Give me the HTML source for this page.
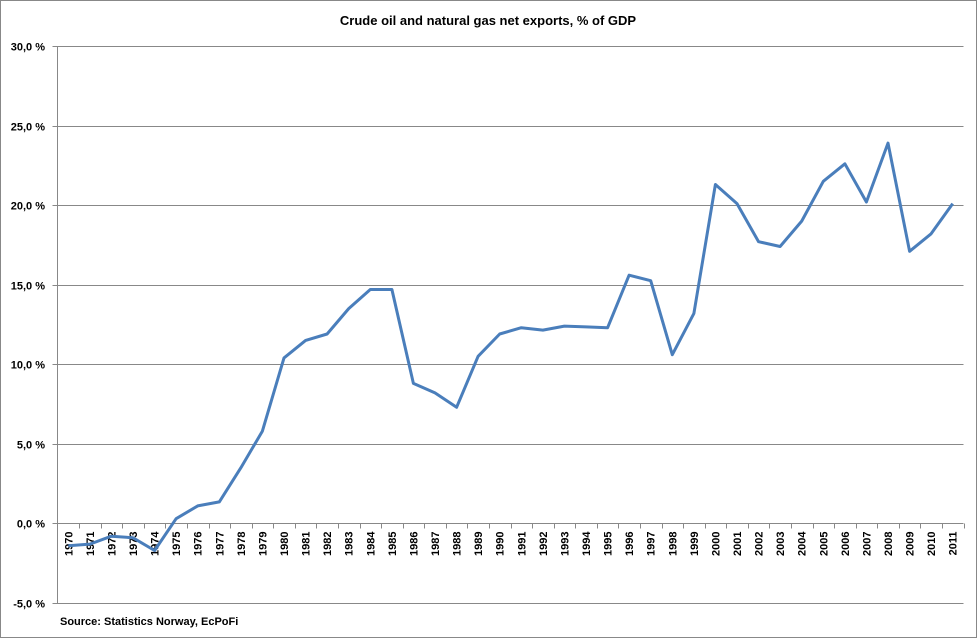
<!DOCTYPE html>
<html><head><meta charset="utf-8"><style>
html,body{margin:0;padding:0;background:#fff;}
svg{display:block;font-family:"Liberation Sans","DejaVu Sans",sans-serif;}
</style></head><body>
<svg id="chart" width="978" height="639">
<rect x="0.5" y="0.5" width="976" height="637" fill="#fff" stroke="#888"/>
<text x="488" y="25" text-anchor="middle" font-size="13" font-weight="bold" fill="#000">Crude oil and natural gas net exports, % of GDP</text>
<g id="grid"></g><g id="yticks"></g><g id="xticks"></g><g id="series"></g>
<text x="60" y="625" font-size="11" font-weight="bold" fill="#000">Source: Statistics  Norway, EcPoFi</text>
</svg>
<script>
const years=[1970,1971,1972,1973,1974,1975,1976,1977,1978,1979,1980,1981,1982,1983,1984,1985,1986,1987,1988,1989,1990,1991,1992,1993,1994,1995,1996,1997,1998,1999,2000,2001,2002,2003,2004,2005,2006,2007,2008,2009,2010,2011];
const values=[-1.4,-1.3,-0.8,-0.9,-1.7,0.3,1.1,1.35,3.5,5.8,10.4,11.5,11.9,13.5,14.7,14.7,8.8,8.2,7.3,10.5,11.9,12.3,12.15,12.4,12.35,12.3,15.6,15.25,10.6,13.2,21.3,20.1,17.7,17.4,19.0,21.5,22.6,20.2,23.9,17.1,18.2,20.1];
const yTicks=[-5,0,5,10,15,20,25,30];
const yLabels=["-5,0 %","0,0 %","5,0 %","10,0 %","15,0 %","20,0 %","25,0 %","30,0 %"];
const NS="http://www.w3.org/2000/svg";
const L=57.5,R=963.5,T=46,B=603,vmin=-5,vmax=30;
function y(v){return B-(v-vmin)/(vmax-vmin)*(B-T);}
const bw=(R-L)/years.length;
function x(i){return L+bw*(i+0.5);}
function mk(t,a,p){const e=document.createElementNS(NS,t);for(const k in a)e.setAttribute(k,a[k]);p.appendChild(e);return e;}
const grid=document.getElementById('grid'),yt=document.getElementById('yticks'),xt=document.getElementById('xticks'),ser=document.getElementById('series');
yTicks.forEach((v,i)=>{
 const yy=Math.round(y(v))+0.5;
 const g=mk('line',{x1:L,x2:R,y1:yy,y2:yy,stroke:'#888','stroke-width':1},grid);
 
 
 mk('line',{x1:L-5,x2:L,y1:yy,y2:yy,stroke:'#888'},yt);
 const t=mk('text',{x:45,y:yy+4,'text-anchor':'end','font-size':11,'font-weight':'bold',fill:'#000'},yt);
 t.textContent=yLabels[i];
 
 
});
mk('line',{x1:L,x2:L,y1:T,y2:B,stroke:'#888'},grid);
const y0=Math.round(y(0))+0.5;
years.forEach((yr,i)=>{
 const xx=Math.round(L+bw*(i+1))+0.5;
 mk('line',{x1:xx,x2:xx,y1:y0,y2:y0+5,stroke:'#888'},xt);
 const cx=x(i)+4;
 const t=mk('text',{x:cx,y:y0+8,'text-anchor':'end','font-size':11,'font-weight':'bold',fill:'#000',transform:`rotate(-90 ${cx} ${y0+8})`},xt);
 t.textContent=yr;
 
 
});
const pts=values.map((v,i)=>x(i).toFixed(1)+','+y(v).toFixed(1)).join(' ');
const pl=mk('polyline',{points:pts,fill:'none',stroke:'#4a7ebb','stroke-width':3,'stroke-linejoin':'round'},ser);


</script>
</body></html>
